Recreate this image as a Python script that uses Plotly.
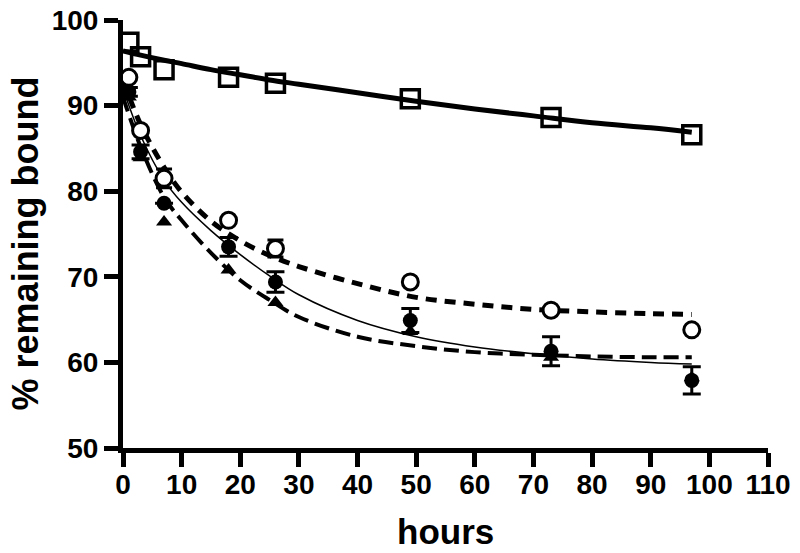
import plotly.graph_objects as go

# measured data points
hours = [1, 3, 7, 18, 26, 49, 73, 97]
square_vals = [97.4, 95.7, 94.2, 93.3, 92.6, 90.8, 88.6, 86.6]
open_circle_vals = [93.3, 87.1, 81.5, 76.6, 73.3, 69.4, 66.1, 63.8]
open_circle_err = [0, 0, 1.1, 0, 1.0, 0, 0, 0]
filled_circle_vals = [91.6, 84.6, 78.6, 73.5, 69.4, 64.9, 61.3, 57.9]
filled_circle_err = [0.5, 0.8, 0, 1.1, 1.2, 1.4, 1.7, 1.6]
triangle_vals = [91.0, 83.9, 76.4, 70.8, 67.0, 63.6, 60.6, 58.2]

# fitted curves
fit_hours = [0, 3, 7, 10, 15, 20, 25, 30, 40, 50, 60, 70, 80, 90, 97]
square_fit = [96.4, 95.9, 95.3, 94.9, 94.2, 93.6, 93.0, 92.5, 91.5, 90.5, 89.6, 88.8, 88.0, 87.4, 86.9]
open_circle_fit = [93.0, 87.8, 82.8, 79.9, 76.5, 74.2, 72.5, 71.2, 69.2, 67.6, 66.8, 66.2, 65.9, 65.7, 65.6]
filled_circle_fit = [92.0, 86.5, 81.3, 78.7, 75.4, 72.6, 70.1, 67.9, 64.9, 63.0, 61.8, 61.0, 60.4, 60.0, 59.8]
triangle_fit = [91.0, 85.2, 79.3, 76.6, 72.8, 69.6, 67.3, 65.3, 63.0, 61.9, 61.2, 60.9, 60.7, 60.6, 60.6]

x_ticks = [0, 10, 20, 30, 40, 50, 60, 70, 80, 90, 100, 110]
y_ticks = [50, 60, 70, 80, 90, 100]

fig = go.Figure()

# curves
fig.add_trace(go.Scatter(x=fit_hours, y=square_fit, mode="lines", line=dict(color="black", width=5, shape="spline"), showlegend=False))
fig.add_trace(go.Scatter(x=fit_hours, y=open_circle_fit, mode="lines", line=dict(color="black", width=5, dash="11px,8px", shape="spline"), showlegend=False))
fig.add_trace(go.Scatter(x=fit_hours, y=filled_circle_fit, mode="lines", line=dict(color="black", width=1.5, shape="spline"), showlegend=False))
fig.add_trace(go.Scatter(x=fit_hours, y=triangle_fit, mode="lines", line=dict(color="black", width=4, dash="15px,7px", shape="spline"), showlegend=False))

# markers
fig.add_trace(go.Scatter(x=hours, y=triangle_vals, mode="markers", cliponaxis=False,
                         marker=dict(symbol="triangle-up", size=14, color="black"), showlegend=False))
fig.add_trace(go.Scatter(x=hours, y=filled_circle_vals, mode="markers", cliponaxis=False,
                         error_y=dict(type="data", array=filled_circle_err, color="black", thickness=3, width=9),
                         marker=dict(symbol="circle", size=15, color="black"), showlegend=False))
fig.add_trace(go.Scatter(x=hours, y=open_circle_vals, mode="markers", cliponaxis=False,
                         error_y=dict(type="data", array=open_circle_err, color="black", thickness=3, width=8),
                         marker=dict(symbol="circle", size=16, color="white", line=dict(width=3, color="black")), showlegend=False))
fig.add_trace(go.Scatter(x=hours, y=square_vals, mode="markers", cliponaxis=False,
                         marker=dict(symbol="square-open", size=18, color="black", line=dict(width=3.5)), showlegend=False))

tick_font = dict(family="Liberation Sans, Arial, sans-serif", size=28, color="black", weight="bold")
title_font = dict(family="Liberation Sans, Arial, sans-serif", size=35, color="black", weight="bold")

fig.update_xaxes(range=[0, 110], tickvals=x_ticks, ticktext=[str(v) for v in x_ticks], automargin=False,
                 showline=True, linewidth=5, linecolor="black", ticks="outside", ticklen=14,
                 tickwidth=5, tickcolor="black", showgrid=False, zeroline=False, tickfont=tick_font,
                 ticklabeloverflow="allow", ticklabelstandoff=-7)
fig.update_yaxes(range=[50, 100], tickvals=y_ticks, ticktext=[str(v) for v in y_ticks], automargin=False,
                 showline=True, linewidth=5, linecolor="black", ticks="outside", ticklen=14,
                 tickwidth=5, tickcolor="black", showgrid=False, zeroline=False, tickfont=tick_font,
                 ticklabeloverflow="allow")

fig.add_annotation(text="hours", xref="paper", yref="paper", x=0.5, y=-0.195, showarrow=False,
                   xanchor="center", yanchor="middle", font=title_font)
fig.add_annotation(text="% remaining bound", xref="paper", yref="paper", x=-0.151, y=0.477, showarrow=False,
                   xanchor="center", yanchor="middle", textangle=-90,
                   font=dict(family="Liberation Sans, Arial, sans-serif", size=36, color="black", weight="bold"))

fig.update_layout(width=800, height=553, margin=dict(l=123, r=32, t=20, b=105, autoexpand=False),
                  plot_bgcolor="white", paper_bgcolor="white")

fig.write_html("out.html", config={"displayModeBar": False},
               post_script="document.body.style.margin='0';document.body.style.overflow='hidden';")
